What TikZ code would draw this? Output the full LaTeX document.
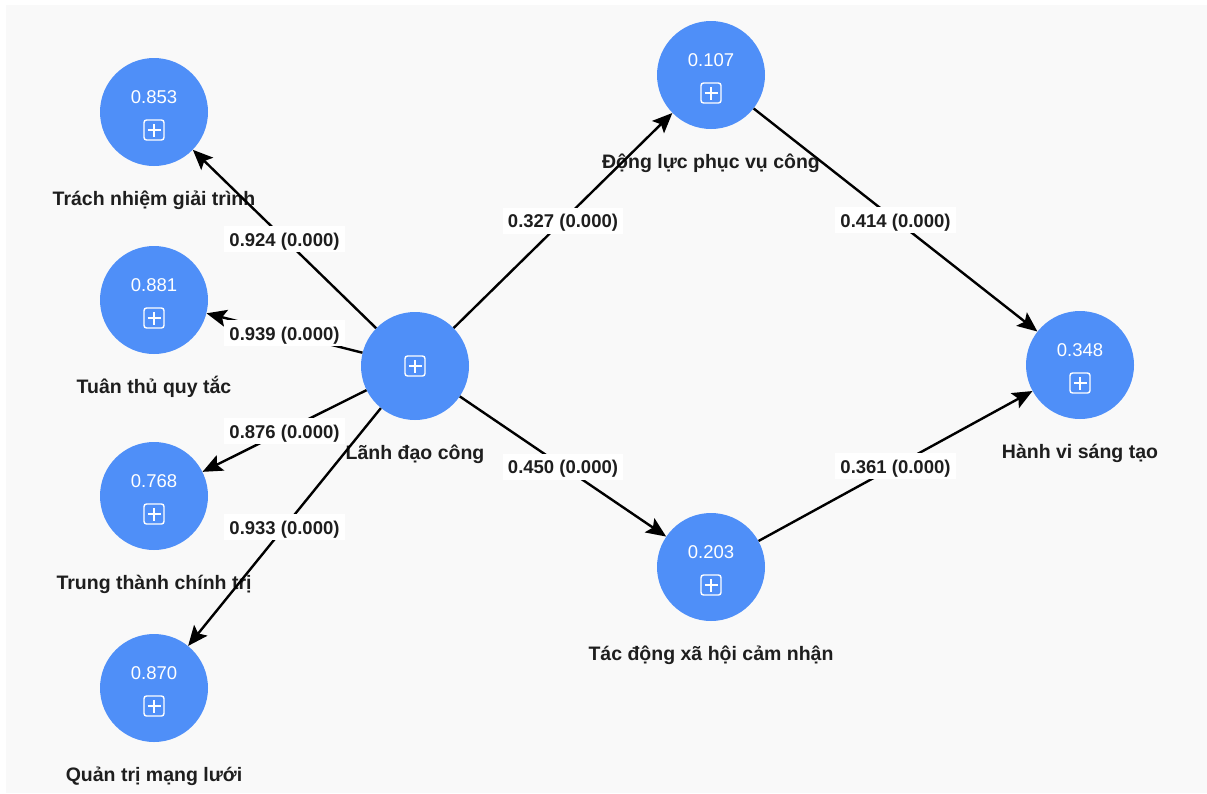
\documentclass[tikz,border=0pt]{standalone}
\usepackage{fontspec}
\setmainfont{Liberation Sans}
\usetikzlibrary{arrows.meta}
\definecolor{lvblue}{HTML}{4F8FF8}
\definecolor{panel}{HTML}{F9F9F9}
\definecolor{ink}{HTML}{1E1E1E}
\tikzset{
	lv/.style={circle, fill=lvblue, minimum size=108pt, inner sep=0pt},
	val/.style={text=white, font=\fontsize{18.5}{20}\selectfont, inner sep=0pt, text height=13pt, text depth=0pt},
	lab/.style={text=ink, font=\bfseries\fontsize{19.5}{21}\selectfont, inner sep=0pt, text height=14.5pt, text depth=4pt, label distance=25pt},
	coef/.style={fill=white, text=ink, font=\bfseries\fontsize{18.5}{20}\selectfont, inner xsep=5pt, inner ysep=3pt, text height=17pt, text depth=3pt},
	arr/.style={line width=2.4pt, draw=black, -{Stealth[length=20pt, width=17pt, inset=4pt]}},
	plusbox/.pic={
		\draw[white, line width=1.4pt, rounded corners=2.5pt] (-10pt,-10pt) rectangle (10pt,10pt);
		\draw[white, line width=1.4pt] (-6.5pt,0pt) -- (6.5pt,0pt) (0pt,-6.5pt) -- (0pt,6.5pt);
	},
}

\begin{document}
\begin{tikzpicture}[x=1pt, y=-1pt]
	\fill[white] (0,0) rectangle (1207,793);
	\fill[panel] (6,5) rectangle (1207,793);
	\useasboundingbox (0,0) rectangle (1207,793);

	\node[lv, label={[lab]below:Trách nhiệm giải trình}] (tn) at (154,112) {};
	\node[lv, label={[lab]below:Tuân thủ quy tắc}] (tt) at (154,300) {};
	\node[lv, label={[lab]below:Trung thành chính trị}] (tc) at (154,496) {};
	\node[lv, label={[lab]below:Quản trị mạng lưới}] (qt) at (154,688) {};
	\node[lv, label={[lab]below:Lãnh đạo công}] (ld) at (415,366) {};
	\node[lv, label={[lab]below:Động lực phục vụ công}] (dl) at (711,75) {};
	\node[lv, label={[lab]below:Tác động xã hội cảm nhận}] (td) at (711,567) {};
	\node[lv, label={[lab]below:Hành vi sáng tạo}] (hv) at (1080,365) {};

	\node[val] (tnv) at ([yshift=15pt]tn.center) {0.853};
	\node[val] (ttv) at ([yshift=15pt]tt.center) {0.881};
	\node[val] (tcv) at ([yshift=15pt]tc.center) {0.768};
	\node[val] (qtv) at ([yshift=15pt]qt.center) {0.870};
	\node[val] (dlv) at ([yshift=15pt]dl.center) {0.107};
	\node[val] (tdv) at ([yshift=15pt]td.center) {0.203};
	\node[val] (hvv) at ([yshift=15pt]hv.center) {0.348};

	\foreach \n in {tn,tt,tc,qt,dl,td,hv}
		\pic at ([yshift=-18pt]\n.center) {plusbox};
	\pic at (ld.center) {plusbox};

	\draw[arr] (ld) -- node[coef] {0.924 (0.000)} (tn);
	\draw[arr] (ld) -- node[coef] {0.939 (0.000)} (tt);
	\draw[arr] (ld) -- node[coef] {0.876 (0.000)} (tc);
	\draw[arr] (ld) -- node[coef] {0.933 (0.000)} (qt);
	\draw[arr] (ld) -- node[coef] {0.327 (0.000)} (dl);
	\draw[arr] (ld) -- node[coef] {0.450 (0.000)} (td);
	\draw[arr] (dl) -- node[coef] {0.414 (0.000)} (hv);
	\draw[arr] (td) -- node[coef] {0.361 (0.000)} (hv);
\end{tikzpicture}
\end{document}
